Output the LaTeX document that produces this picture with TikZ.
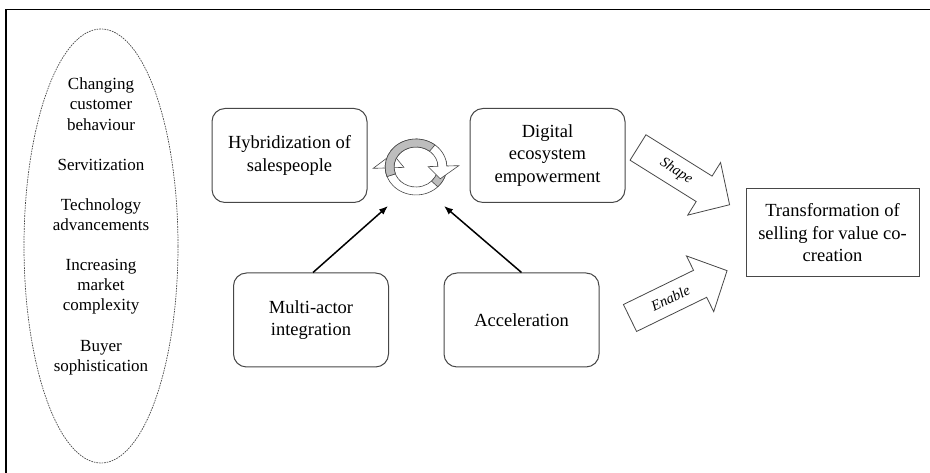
\documentclass[tikz,border=0pt]{standalone}
\usepackage{fontspec}
\setmainfont{Liberation Serif}
\usepackage{tikz}
\usetikzlibrary{arrows.meta,positioning,shapes.geometric}
\definecolor{boxline}{HTML}{474747}
\definecolor{ribbon}{HTML}{BDBDBD}
\tikzset{
  stagebox/.style={
    rectangle, rounded corners=13pt, draw=boxline, line width=1pt,
    minimum width=155pt, minimum height=94pt,
    font=\fontsize{18.5}{22.5}\selectfont, align=center,
    inner sep=4pt
  },
  outcomebox/.style={
    rectangle, draw=boxline, line width=1pt,
    minimum width=173pt, minimum height=88pt,
    font=\fontsize{18.5}{22.5}\selectfont, align=center,
    inner sep=4pt
  },
  driverring/.style={
    ellipse, draw=boxline, line width=0.7pt, dash pattern=on 1.6pt off 1pt,
    minimum width=154pt, minimum height=434pt, inner sep=0pt
  },
  driverlist/.style={
    font=\fontsize{17}{20.1}\selectfont, align=center
  },
  pusharrow/.style={
    -{Latex[length=9pt,width=7pt]}, line width=1.5pt, color=black
  },
  blockarrow/.style={
    draw=boxline, line width=0.8pt, fill=white, line join=miter
  },
  ribbonarrow/.style={
    draw=boxline, line width=0.6pt, fill=#1
  },
  ribbonarrow/.default=white,
  arrowlabel/.style={
    font=\fontsize{14.5}{17}\selectfont\itshape, inner sep=0pt
  },
}
\begin{document}
\begin{tikzpicture}[x=1pt, y=1pt]
  \useasboundingbox (0,0) rectangle (930,473);
  \draw[line width=1.2pt] (6,0) -- (6,463.5) -- (930,463.5);

  % drivers
  \node[driverring] (drivers) at (101,227) {};
  \node[driverlist] (driverlist) at (101,246.5)
    {Changing\\customer\\behaviour\\[20.1pt]Servitization\\[20.1pt]%
     Technology\\advancements\\[20.1pt]Increasing\\market\\complexity\\[20.1pt]%
     Buyer\\sophistication};

  % stages
  \node[stagebox] (hybrid) at (289.5,317.5) {Hybridization of\\salespeople};
  \node[stagebox, right=102pt of hybrid] (digital) {Digital\\ecosystem\\empowerment};
  \node[stagebox] (multi) at (311,153) {Multi-actor\\integration};
  \node[stagebox] (accel) at (521.5,153) {Acceleration};
  \node[outcomebox] (transform) at (832.5,240)
    {Transformation of\\selling for value co-\\creation};

  % cycle between hybridization and empowerment
  \begin{scope}[shift={(416,306)}, xscale=1.1]
    \draw[ribbonarrow] (12:28) arc[start angle=12, end angle=-178, radius=28]
      -- (-178:39) -- (148:25) -- (-178:11) -- (-178:20)
      arc[start angle=-178, end angle=12, radius=20] -- cycle;
    \draw[ribbonarrow=ribbon] (12:28) arc[start angle=12, end angle=-45, radius=28]
      -- (-45:20) arc[start angle=-45, end angle=12, radius=20] -- cycle;
    \draw[ribbonarrow] (200:28) arc[start angle=200, end angle=2, radius=28]
      -- (2:39) -- (-28:25) -- (2:11) -- (2:20)
      arc[start angle=2, end angle=200, radius=20] -- cycle;
    \draw[ribbonarrow=ribbon] (200:28) arc[start angle=200, end angle=52, radius=28]
      -- (52:20) arc[start angle=52, end angle=200, radius=20] -- cycle;
  \end{scope}
  \coordinate (cycleleft) at (388,267);
  \coordinate (cycleright) at (444,267);

  \draw[pusharrow] ([xshift=2pt]multi.north) -- (cycleleft);
  \draw[pusharrow] (accel.north) -- (cycleright);

  % block arrows into the outcome
  \foreach \px/\py/\ang/\lab/\nm in {638/325.5/-32/Shape/shape, 630/155/26/Enable/enable}{
    \begin{scope}[shift={(\px,\py)}, rotate=\ang]
      \draw[blockarrow] (0,15) -- (78,15) -- (78,31) -- (108,0)
        -- (78,-31) -- (78,-15) -- (0,-15) -- cycle;
      \node[arrowlabel, rotate=\ang] (\nm) at (45,0) {\lab};
    \end{scope}
  }
\end{tikzpicture}
\end{document}
